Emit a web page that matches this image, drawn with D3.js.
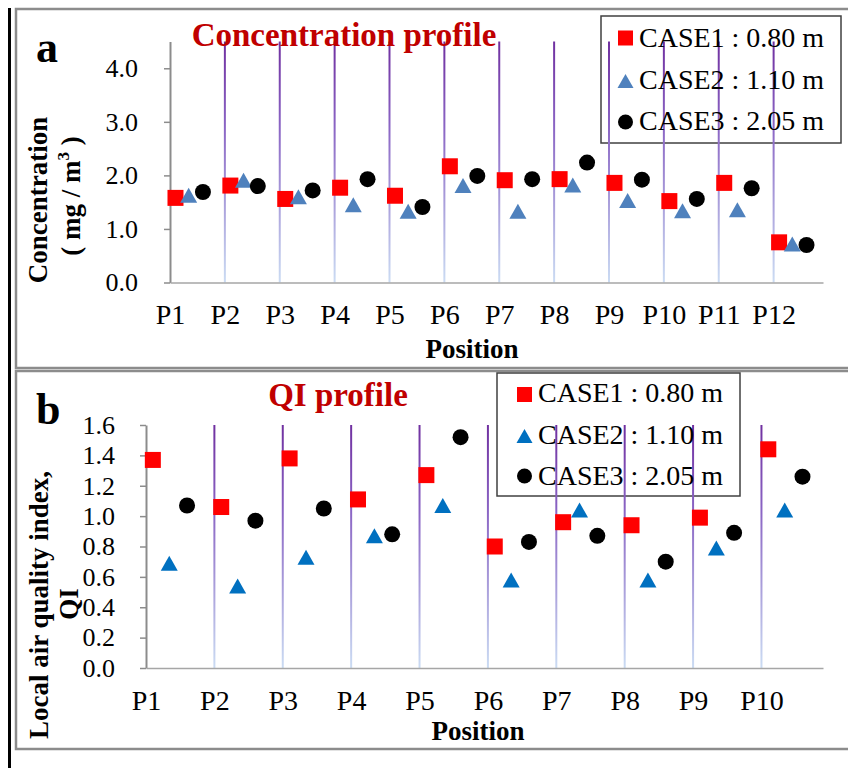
<!DOCTYPE html>
<html>
<head>
<meta charset="utf-8">
<script src="https://cdn.jsdelivr.net/npm/d3@7"></script>
<style>
  body { margin: 0; background: #fff; }
  svg { display: block; font-family: "Liberation Serif", "Times New Roman", serif; }
</style>
</head>
<body>
<svg id="chart" width="848" height="768"></svg>
<script>
// ---- data ----
var concPositions = ["P1", "P2", "P3", "P4", "P5", "P6", "P7", "P8", "P9", "P10", "P11", "P12"];
var concCase1 = [1.58, 1.81, 1.56, 1.77, 1.62, 2.17, 1.91, 1.93, 1.86, 1.52, 1.86, 0.75];
var concCase2 = [1.63, 1.91, 1.60, 1.45, 1.33, 1.81, 1.33, 1.82, 1.53, 1.34, 1.36, 0.72];
var concCase3 = [1.69, 1.80, 1.72, 1.93, 1.41, 1.99, 1.93, 2.24, 1.92, 1.56, 1.76, 0.70];
var concTicks = [0, 1, 2, 3, 4];

var qiPositions = ["P1", "P2", "P3", "P4", "P5", "P6", "P7", "P8", "P9", "P10"];
var qiCase1 = [1.37, 1.06, 1.38, 1.11, 1.27, 0.80, 0.96, 0.94, 0.99, 1.44];
var qiCase2 = [0.69, 0.54, 0.73, 0.87, 1.07, 0.58, 1.04, 0.58, 0.79, 1.04];
var qiCase3 = [1.07, 0.97, 1.05, 0.88, 1.52, 0.83, 0.87, 0.70, 0.89, 1.26];
var qiTicks = [0, 0.2, 0.4, 0.6, 0.8, 1.0, 1.2, 1.4, 1.6];

var caseNames = ["CASE1 : 0.80 m", "CASE2 : 1.10 m", "CASE3 : 2.05 m"];
var caseOffsets = [0.1, 0.34, 0.6];   // x shift of each case inside a position

var svg = d3.select("#chart");
var defs = svg.append("defs");

// black rule on the far left
svg.append("line")
  .attr("x1", 9.5).attr("x2", 9.5).attr("y1", 8).attr("y2", 768)
  .attr("stroke", "#000").attr("stroke-width", 3);

function marker(g, kind, size, color) {
  if (kind == 0) {
    g.append("rect").attr("x", -size / 2).attr("y", -size / 2)
      .attr("width", size).attr("height", size).attr("fill", color);
  } else if (kind == 1) {
    var w = size + 1, h = size - 1;
    g.append("path")
      .attr("d", "M0," + (-h / 2) + "L" + (w / 2) + "," + (h / 2) + "L" + (-w / 2) + "," + (h / 2) + "Z")
      .attr("fill", color);
  } else {
    g.append("circle").attr("r", size / 2).attr("fill", color);
  }
}

function drawPanel(p) {
  // frame
  svg.append("rect")
    .attr("x", 16).attr("y", p.frameTop)
    .attr("width", 860).attr("height", p.frameH)
    .attr("fill", "none").attr("stroke", "#8c8c8c").attr("stroke-width", 2.5);

  var x = d3.scaleLinear().domain([1, p.positions.length + 0.9]).range([p.left, p.right]);
  var y = d3.scaleLinear().domain([0, p.yMax]).range([p.bottom, p.top]);

  // legend box
  svg.append("rect")
    .attr("x", p.legX).attr("y", p.legY).attr("width", p.legW).attr("height", p.legH)
    .attr("fill", "#fff").attr("stroke", "#404040").attr("stroke-width", 1.5);

  // gradient for the position lines
  var grad = defs.append("linearGradient")
    .attr("id", p.id + "Grad")
    .attr("gradientUnits", "userSpaceOnUse")
    .attr("x1", 0).attr("x2", 0).attr("y1", p.top).attr("y2", p.bottom);
  grad.append("stop").attr("offset", "0").attr("stop-color", "#7030a0");
  grad.append("stop").attr("offset", "0.35").attr("stop-color", "#8a64c4");
  grad.append("stop").attr("offset", "1").attr("stop-color", "#cbdcf3");

  var idx = d3.range(2, p.positions.length + 1);
  svg.append("g").selectAll("line")
    .data(idx)
    .enter()
    .append("line")
    .attr("x1", (d) => x(d)).attr("x2", (d) => x(d))
    .attr("y1", y(p.yMax)).attr("y2", y(0))
    .attr("stroke", "url(#" + p.id + "Grad)")
    .attr("stroke-width", 2);

  //Create axes
  var yAxis = d3.axisLeft(y)
    .tickValues(p.ticks)
    .tickFormat(d3.format(".1f"))
    .tickSize(6).tickSizeOuter(0).tickPadding(p.yPad);
  var gy = svg.append("g")
    .attr("transform", "translate(" + p.left + ",0)")
    .call(yAxis);
  gy.select(".domain").attr("stroke", "#8c8c8c").attr("stroke-width", 2);
  gy.selectAll(".tick line").attr("stroke", "#8c8c8c").attr("stroke-width", 1.5);
  gy.selectAll("text").attr("font-size", 26).attr("font-family", "Liberation Serif").attr("fill", "#000");

  var xAxis = d3.axisBottom(x)
    .tickValues(d3.range(1, p.positions.length + 1))
    .tickFormat((d) => p.positions[d - 1])
    .tickSize(0).tickSizeOuter(0).tickPadding(22);
  var gx = svg.append("g")
    .attr("transform", "translate(0," + p.bottom + ")")
    .call(xAxis);
  gx.select(".domain").attr("stroke", "#a6a6a6").attr("stroke-width", 1.5);
  gx.selectAll("text").attr("font-size", 28).attr("font-family", "Liberation Serif").attr("fill", "#000");

  // markers
  var colors = ["#ff0000", p.triColor, "#000000"];
  p.series.forEach(function (vals, k) {
    svg.append("g").selectAll("g")
      .data(vals)
      .enter()
      .append("g")
      .attr("transform", (d, i) => "translate(" + x(i + 1 + caseOffsets[k]) + "," + y(d) + ")")
      .each(function () { marker(d3.select(this), k, 16, colors[k]); });
  });

  // legend entries
  caseNames.forEach(function (name, k) {
    var gl = svg.append("g")
      .attr("transform", "translate(" + p.legSymX + "," + p.legRows[k] + ")");
    marker(gl, k, 15, colors[k]);
    svg.append("text")
      .attr("x", p.legTextX).attr("y", p.legBase[k])
      .attr("font-size", 28)
      .text(name);
  });

  // panel letter and title
  svg.append("text")
    .attr("x", 36).attr("y", p.letterY)
    .attr("font-size", 44).attr("font-weight", "bold")
    .text(p.letter);
  svg.append("text")
    .attr("x", p.titleX).attr("y", p.titleY)
    .attr("text-anchor", "middle")
    .attr("font-size", 33).attr("font-weight", "bold").attr("fill", "#c00000")
    .text(p.title);

  // Position label
  svg.append("text")
    .attr("x", p.xLabelX).attr("y", p.xLabelY)
    .attr("text-anchor", "middle")
    .attr("font-size", 27).attr("font-weight", "bold")
    .text("Position");
}

drawPanel({
  id: "conc", frameTop: 9, frameH: 359,
  positions: concPositions, series: [concCase1, concCase2, concCase3],
  yMax: 4.5, ticks: concTicks,
  left: 170, right: 823, top: 41.5, bottom: 282.5, yPad: 26,
  triColor: "#4f81bd",
  legX: 601, legY: 16, legW: 240, legH: 127,
  legSymX: 625.5, legRows: [38, 81, 122], legTextX: 639, legBase: [47, 89, 130],
  letter: "a", letterY: 62,
  title: "Concentration  profile", titleX: 344, titleY: 46,
  xLabelX: 472, xLabelY: 358
});

drawPanel({
  id: "qi", frameTop: 371, frameH: 378,
  positions: qiPositions, series: [qiCase1, qiCase2, qiCase3],
  yMax: 1.6, ticks: qiTicks,
  left: 146, right: 823, top: 425, bottom: 668, yPad: 25,
  triColor: "#0070c0",
  legX: 497, legY: 373, legW: 243, legH: 123,
  legSymX: 524.5, legRows: [394.5, 436, 476], legTextX: 538, legBase: [402, 444, 485],
  letter: "b", letterY: 424,
  title: "QI profile", titleX: 338, titleY: 406,
  xLabelX: 478, xLabelY: 740
});

// y-axis titles
var t1 = svg.append("g").attr("font-weight", "bold").attr("font-size", 27).attr("text-anchor", "middle");
t1.append("text")
  .attr("transform", "translate(47,200) rotate(-90)")
  .text("Concentration");
var t2 = t1.append("text")
  .attr("transform", "translate(80,196) rotate(-90)");
t2.append("tspan").text("( mg / m");
t2.append("tspan").attr("font-size", 17).attr("dy", -11).text("3");
t2.append("tspan").attr("dy", 11).text(" )");

t1.append("text")
  .attr("transform", "translate(48,605) rotate(-90)")
  .text("Local air quality index,");
t1.append("text")
  .attr("transform", "translate(78,604) rotate(-90)")
  .text("QI");
</script>
</body>
</html>
